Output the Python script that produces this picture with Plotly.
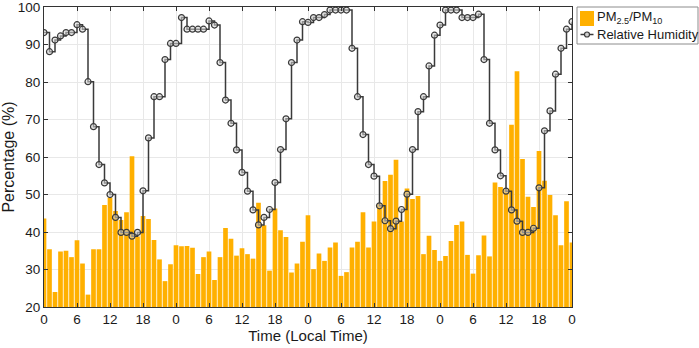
import plotly.graph_objects as go

hours = list(range(97))
pm_ratio = [43.6, 35.4, 24.0, 34.8, 35.0, 33.3, 37.8, 31.6, 23.3, 35.4, 35.4, 47.2, 49.2, 45.6, 43.2, 45.3, 60.2, 38.8, 44.3, 43.5,
            37.9, 32.7, 26.9, 31.4, 36.5, 36.2, 36.3, 35.8, 28.8, 33.3, 34.8, 27.2, 33.3, 41.1, 38.2, 33.7, 35.7, 34.1, 32.9, 47.8,
            41.8, 29.7, 46.3, 40.5, 38.7, 29.2, 31.6, 37.4, 44.5, 30.1, 34.3, 32.3, 35.9, 37.2, 28.3, 29.3, 35.9, 37.4, 45.3, 35.9,
            42.8, 47.6, 53.6, 55.3, 59.3, 42.8, 51.6, 48.8, 49.6, 34.1, 39.0, 35.2, 32.3, 33.6, 37.6, 41.9, 42.8, 33.9, 28.9, 33.8,
            39.1, 33.5, 53.2, 52.0, 51.4, 68.6, 82.9, 59.5, 49.4, 46.7, 61.6, 53.7, 49.9, 44.5, 36.5, 48.2, 37.2]
humidity = [93.2, 88.1, 91.2, 92.3, 93.2, 93.2, 95.3, 94.1, 80.1, 68.1, 58.0, 53.1, 50.0, 43.9, 39.9, 39.9, 38.9, 39.9, 51.0, 65.1,
            76.1, 76.1, 86.0, 90.3, 90.3, 97.2, 94.1, 94.1, 94.1, 94.1, 96.3, 95.2, 85.2, 75.2, 69.0, 61.9, 55.9, 50.9, 45.9, 41.9,
            43.9, 46.0, 53.2, 62.0, 70.2, 85.2, 91.2, 96.1, 95.9, 97.2, 97.2, 98.0, 99.2, 99.2, 99.2, 99.2, 89.0, 76.1, 66.0, 58.0,
            54.9, 47.0, 43.0, 40.9, 42.9, 46.0, 50.1, 62.0, 72.1, 76.1, 84.3, 92.5, 95.2, 99.2, 99.2, 99.2, 97.2, 97.2, 97.2, 98.1,
            86.0, 69.0, 61.9, 55.0, 50.9, 45.9, 42.9, 39.9, 39.9, 41.0, 51.8, 67.0, 72.3, 82.1, 89.0, 94.1, 96.1]
tick_vals = list(range(0, 97, 6))
tick_text = ["0", "6", "12", "18"] * 4 + ["0"]
y_tick_vals = list(range(20, 101, 10))
legend_names = ["PM<sub>2.5</sub>/PM<sub>10</sub>", "Relative Humidity"]

BAR_COLOR = "#FFB000"
LINE_COLOR = "#3a3a3a"
MARKER_FILL = "rgba(215,215,215,0.55)"

fig = go.Figure()
fig.add_trace(go.Bar(x=hours, y=pm_ratio, name=legend_names[0],
                     marker=dict(color=BAR_COLOR, line=dict(width=0))))
fig.add_trace(go.Scatter(x=hours, y=humidity, name=legend_names[1], mode="lines+markers",
                         line=dict(shape="hv", color=LINE_COLOR, width=1.5),
                         marker=dict(symbol="circle", size=6, color=MARKER_FILL,
                                     line=dict(color=LINE_COLOR, width=1.2))))

# plot area in pixels: x 44..572, y 7..307
L, R, T, B = 44, 572, 7, 307
def px(p):
    return (p - L) / (R - L)
def py(p):
    return (B - p) / (B - T)

shapes = [
    # legend box
    dict(type="rect", xref="paper", yref="paper", x0=px(577), x1=px(698), y0=py(44), y1=py(7),
         line=dict(color="#8c8c8c", width=1), fillcolor="white", layer="above"),
    # bar swatch
    dict(type="rect", xref="paper", yref="paper", x0=px(580), x1=px(594), y0=py(26), y1=py(11),
         line=dict(width=0), fillcolor=BAR_COLOR, layer="above"),
    # line swatch
    dict(type="line", xref="paper", yref="paper", x0=px(580.5), x1=px(593.5), y0=py(34.5), y1=py(34.5),
         line=dict(color=LINE_COLOR, width=1.5), layer="above"),
    dict(type="circle", xref="paper", yref="paper", x0=px(584.5), x1=px(589.5), y0=py(37), y1=py(32),
         line=dict(color=LINE_COLOR, width=1.2), fillcolor="#d0d0d0", layer="above"),
]
annotations = [
    dict(xref="paper", yref="paper", x=px(595), y=py(18), text=legend_names[0], showarrow=False,
         xanchor="left", yanchor="middle", font=dict(size=13)),
    dict(xref="paper", yref="paper", x=px(595), y=py(34.5), text=legend_names[1], showarrow=False,
         xanchor="left", yanchor="middle", font=dict(size=13)),
]

fig.update_layout(
    width=699, height=348,
    margin=dict(l=L, r=699 - R, t=T, b=348 - B, autoexpand=False),
    paper_bgcolor="white", plot_bgcolor="white",
    bargap=0.15,
    font=dict(family="Liberation Sans, Arial, sans-serif", size=13.5, color="#1a1a1a"),
    showlegend=False,
    shapes=shapes,
    annotations=annotations,
    xaxis=dict(range=[0, 96], tickvals=tick_vals, ticktext=tick_text,
               ticks="inside", ticklen=4, tickcolor="#333333",
               showline=True, linecolor="#333333", linewidth=1, mirror="ticks",
               showgrid=True, gridcolor="#e8e8e8", zeroline=False,
               ticklabeloverflow="allow",
               title=dict(text="Time (Local Time)", standoff=2, font=dict(size=15)),
               tickfont=dict(size=13.5)),
    yaxis=dict(range=[20, 100.02], tickvals=y_tick_vals,
               ticks="inside", ticklen=4, tickcolor="#333333",
               showline=True, linecolor="#333333", linewidth=1, mirror="ticks",
               showgrid=True, gridcolor="#e8e8e8", zeroline=False,
               ticklabeloverflow="allow",
               title=dict(text="Percentage (%)", standoff=5, font=dict(size=16)),
               tickfont=dict(size=13.5)),
)

fig.write_html("out.html", config={"displayModeBar": False},
               post_script="document.body.style.margin='0';document.body.style.padding='0';")
